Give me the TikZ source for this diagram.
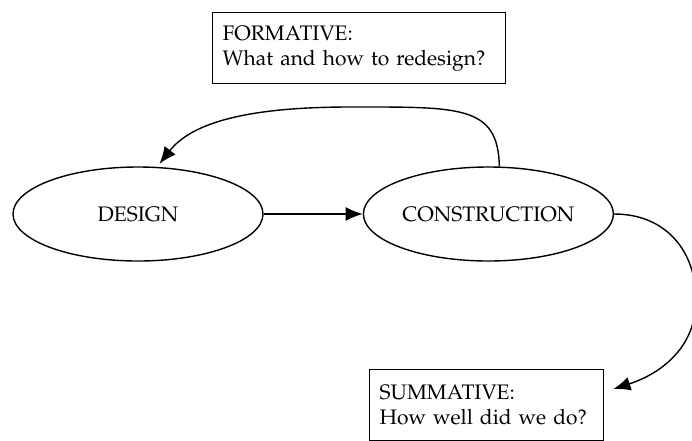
\documentclass[tikz,border=0pt]{standalone}
\usepackage[T1]{fontenc}
\usepackage{mathpazo}
\usepackage{tikz}
\usetikzlibrary{arrows.meta,calc,positioning,shapes.geometric}
\tikzset{%
	phase/.style = {draw, ellipse, line width=1.4pt, minimum width=250pt, minimum height=94pt, inner sep=0pt, font=\fontsize{21}{25}\selectfont}, % Stage
	note/.style  = {draw, rectangle, line width=1.4pt, anchor=north west, inner xsep=10pt, inner ysep=0pt, minimum height=71pt, align=left, font=\fontsize{21}{25}\selectfont}, % Evaluation
	link/.style  = {line width=1.4pt, -{Latex[length=17pt,width=14pt]}}, % Arrow
}

\begin{document}
\begin{tikzpicture}[x=1pt, y=-1pt, node distance=99pt]
	\useasboundingbox (0,0) rectangle (692,440);
	\node[phase] (des) at (138,214) {DESIGN};
	\node[phase, right=of des] (con) {CONSTRUCTION};
	\node[note, text width=273pt] (form) at (212,12) {FORMATIVE:\\ What and how to redesign?};
	\node[note, text width=214pt] (summ) at (369,369) {SUMMATIVE:\\ How well did we do?};
	\coordinate (tip) at ($(summ.north east)+(9,20)$);
	\draw[link] (des) -- (con);
	\draw[link, shorten >=4pt] (con.77) .. controls (498,105) and (460,107) .. (350,107) .. controls (240,107) and (190,125) .. (des.68);
	\draw[link] (con.east) .. controls (665,214) and (696,250) .. (696,300) .. controls (696,348) and (660,374) .. (tip);
\end{tikzpicture}
\end{document}
